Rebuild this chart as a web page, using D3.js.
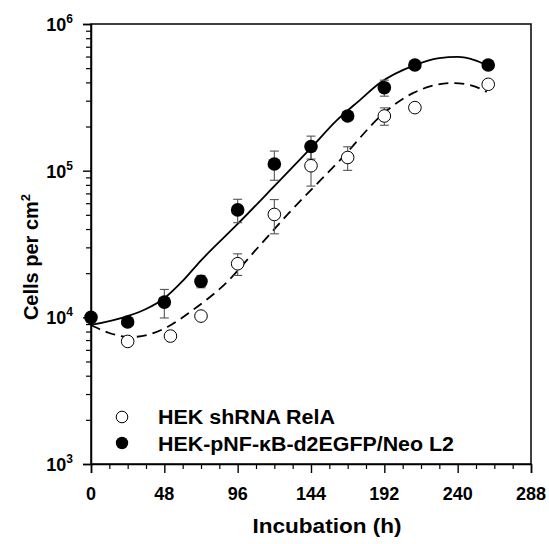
<!DOCTYPE html>
<html><head><meta charset="utf-8">
<script src="https://cdn.jsdelivr.net/npm/d3@7"></script>
<style>
html,body{margin:0;padding:0;background:#fff;}
text{font-family:Arial,"Liberation Sans",sans-serif;font-weight:bold;fill:#000;}
</style></head>
<body>
<svg id="chart" width="549" height="544"></svg>
<script>
// ---- data ----
const hoursFilled = [0, 24, 48, 72, 96, 120, 144, 168, 192, 212, 260];
const cellsFilled = [10000, 9300, 12700, 17600, 54000, 111000, 146000, 236000, 368000, 525000, 525000];
const errFilled   = [0, 0, 2800, 1700, 9800, 25000, 26000, 12000, 46000, 0, 0];

const hoursOpen = [24, 52, 72, 96, 120, 144, 168, 192, 212, 260];
const cellsOpen = [6850, 7450, 10200, 23200, 50300, 108000, 123000, 236000, 269000, 388000];
const errOpen   = [0, 0, 0, 3900, 13200, 29500, 22500, 32000, 0, 0];

// fitted curves: hours / cells
const fitFilledHours = [0, 24, 36, 48, 60, 71, 96, 120, 144, 161, 176, 189, 212, 228, 240, 251, 259];
const fitFilledCells = [8870, 10200, 11400, 13500, 17700, 23800, 43300, 78500, 143000, 221000, 303000, 396000, 525000, 586000, 596000, 568000, 525000];
const fitOpenHours = [0, 12, 26, 39, 50, 65, 89, 109, 129, 163, 194, 211, 223, 236, 248, 259];
const fitOpenCells = [8870, 7820, 7340, 7690, 8590, 10900, 17400, 29700, 50700, 118000, 259000, 339000, 378000, 396000, 384000, 344000];

const xMajorTicks = [0, 48, 96, 144, 192, 240, 288];
const yMajorExps = [3, 4, 5, 6];
const legendLabels = ["HEK shRNA RelA", "HEK-pNF-\u03BAB-d2EGFP/Neo L2"];
const xTitle = "Incubation (h)";
const yTitle = "Cells per cm";

// ---- layout ----
const svg = d3.select("#chart");
const L = 91, R = 531, T = 24, B = 464;
const x = d3.scaleLinear().domain([0, 288]).range([L, R]);
const y = d3.scaleLog().domain([1e3, 1e6]).range([B, T]);

// frame
svg.append("rect").attr("x", L).attr("y", T).attr("width", R - L).attr("height", B - T)
  .attr("fill", "none").attr("stroke", "#000").attr("stroke-width", 1.5);

// y axis ticks
const yMinor = [];
for (let e = 3; e < 6; e++) for (let m = 2; m <= 9; m++) yMinor.push(m * Math.pow(10, e));
svg.append("g").attr("transform", `translate(${L},0)`)
  .call(d3.axisLeft(y).tickValues(yMinor).tickSize(5).tickFormat(""))
  .call(g => { g.select(".domain").remove(); g.selectAll("line").attr("stroke-width", 1.2); });
svg.append("g").attr("transform", `translate(${L},0)`)
  .call(d3.axisLeft(y).tickValues(yMajorExps.map(e => Math.pow(10, e))).tickSize(8).tickFormat(""))
  .call(g => { g.select(".domain").attr("stroke-width", 1.5); g.selectAll("line").attr("stroke-width", 1.4); });

const yl = svg.append("g").selectAll("text").data(yMajorExps).join("text")
  .attr("x", 73).attr("y", d => y(Math.pow(10, d)) + 7)
  .attr("text-anchor", "end").style("font-size", "18px");
yl.append("tspan").text("10");
yl.append("tspan").attr("dy", -8).style("font-size", "12px").text(d => d);

// x axis ticks
const xMinor = d3.range(0, 289, 12).filter(v => v % 48 !== 0);
svg.append("g").attr("transform", `translate(0,${B})`)
  .call(d3.axisBottom(x).tickValues(xMinor).tickSize(5).tickFormat(""))
  .call(g => { g.select(".domain").remove(); g.selectAll("line").attr("stroke-width", 1.2); });
svg.append("g").attr("transform", `translate(0,${B})`)
  .call(d3.axisBottom(x).tickValues(xMajorTicks).tickSize(9).tickFormat(""))
  .call(g => { g.select(".domain").attr("stroke-width", 1.5); g.selectAll("line").attr("stroke-width", 1.4); });
svg.append("g").selectAll("text").data(xMajorTicks).join("text")
  .attr("x", d => x(d)).attr("y", 500).attr("text-anchor", "middle")
  .style("font-size", "18px").text(d => d);

// titles
svg.append("text").attr("x", 327).attr("y", 533).attr("text-anchor", "middle")
  .style("font-size", "21px").attr("textLength", 149).attr("lengthAdjust", "spacingAndGlyphs").text(xTitle);
const yt = svg.append("text").attr("transform", "translate(38,257) rotate(-90)")
  .attr("text-anchor", "middle").style("font-size", "20px");
yt.append("tspan").text(yTitle);
yt.append("tspan").attr("dy", -8).style("font-size", "13px").text("2");

// curves
const line = d3.line().x(d => x(d[0])).y(d => y(d[1])).curve(d3.curveMonotoneX);
svg.append("path").datum(fitFilledHours.map((h, i) => [h, fitFilledCells[i]]))
  .attr("d", line).attr("fill", "none").attr("stroke", "#000").attr("stroke-width", 1.8);
svg.append("path").datum(fitOpenHours.map((h, i) => [h, fitOpenCells[i]]))
  .attr("d", line).attr("fill", "none").attr("stroke", "#000").attr("stroke-width", 1.8)
  .attr("stroke-dasharray", "10,6");

// error bars
function errorBars(hours, vals, errs) {
  const g = svg.append("g").attr("stroke", "#555").attr("stroke-width", 1.1);
  hours.forEach((h, i) => {
    if (!errs[i]) return;
    const cx = x(h), y1 = y(vals[i] + errs[i]), y2 = y(vals[i] - errs[i]);
    g.append("line").attr("x1", cx).attr("x2", cx).attr("y1", y1).attr("y2", y2);
    g.append("line").attr("x1", cx - 4.5).attr("x2", cx + 4.5).attr("y1", y1).attr("y2", y1);
    g.append("line").attr("x1", cx - 4.5).attr("x2", cx + 4.5).attr("y1", y2).attr("y2", y2);
  });
}
errorBars(hoursOpen, cellsOpen, errOpen);
errorBars(hoursFilled, cellsFilled, errFilled);

// points
svg.append("g").selectAll("circle").data(hoursOpen).join("circle")
  .attr("cx", d => x(d)).attr("cy", (d, i) => y(cellsOpen[i])).attr("r", 6.3)
  .attr("fill", "#fff").attr("stroke", "#000").attr("stroke-width", 1);
svg.append("g").selectAll("circle").data(hoursFilled).join("circle")
  .attr("cx", d => x(d)).attr("cy", (d, i) => y(cellsFilled[i])).attr("r", 6.8)
  .attr("fill", "#000");

// legend
const legendWidths = [177, 296];
const lg = svg.append("g");
lg.append("circle").attr("cx", 122).attr("cy", 417).attr("r", 5.8).attr("fill", "#fff").attr("stroke", "#000").attr("stroke-width", 1);
lg.append("circle").attr("cx", 122).attr("cy", 443).attr("r", 6.2).attr("fill", "#000");
lg.selectAll("text").data(legendLabels).join("text")
  .attr("x", 158).attr("y", (d, i) => 424 + i * 27)
  .attr("textLength", (d, i) => legendWidths[i]).attr("lengthAdjust", "spacingAndGlyphs")
  .style("font-size", "20px").text(d => d);
</script>
</body></html>
